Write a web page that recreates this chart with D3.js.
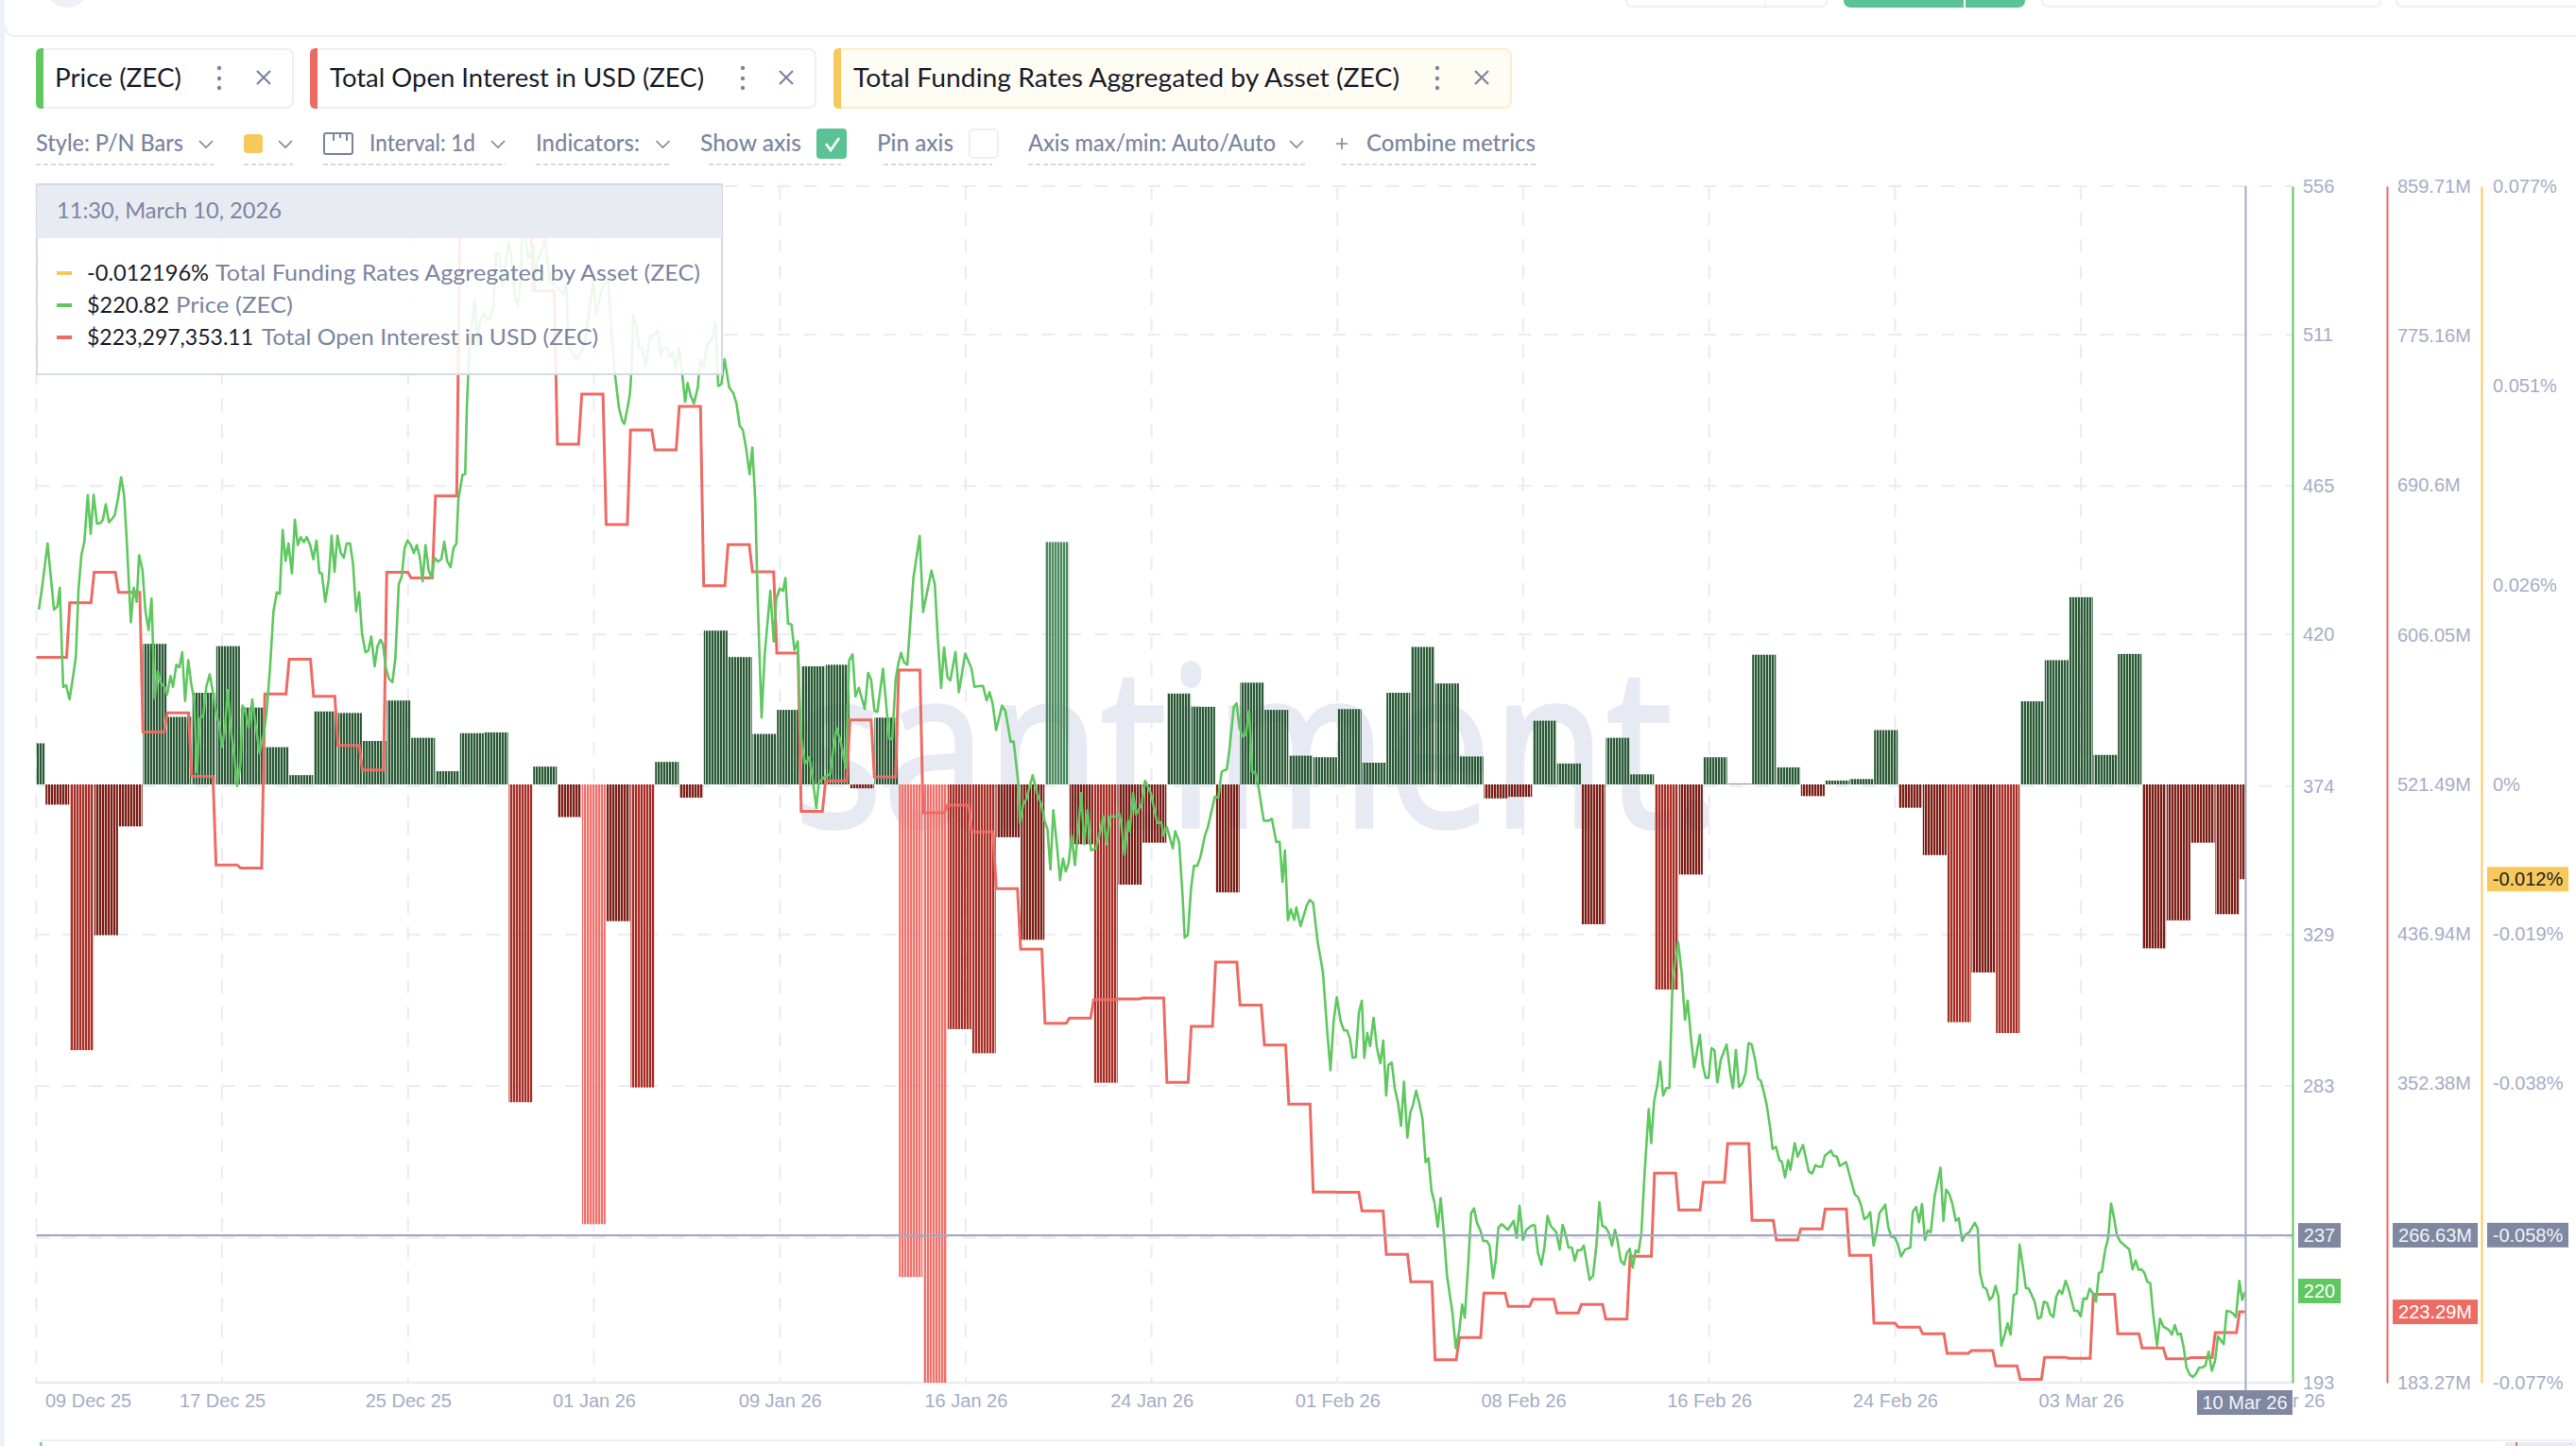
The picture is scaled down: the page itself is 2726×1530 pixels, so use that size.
<!DOCTYPE html>
<html><head><meta charset="utf-8">
<style>html,body{margin:0;padding:0;background:#fff}svg{display:block}</style>
<script src="https://cdn.jsdelivr.net/npm/d3@7"></script></head><body>
<script>
// ---------- DATA ----------
const xTickLabels=["09 Dec 25","17 Dec 25","25 Dec 25","01 Jan 26","09 Jan 26","16 Jan 26","24 Jan 26","01 Feb 26","08 Feb 26","16 Feb 26","24 Feb 26","03 Mar 26","10 Mar 26"];
const priceTicks=[556,511,465,420,374,329,283,237,193];
const oiTicks=[859.71,775.16,690.6,606.05,521.49,436.94,352.38,183.27];
const fundingTicks=[0.077,0.0513,0.0257,0,-0.01925,-0.0385,-0.05775,-0.077];
const fundingTickLabels=["0.077%","0.051%","0.026%","0%","-0.019%","-0.038%","-0.058%","-0.077%"];
// Daily funding rate in %, 09 Dec 25 .. 10 Mar 26
const funding=[.0053,-.0026,-.0342,-.0194,-.0054,.0181,.0087,.0118,.0178,.0099,.0048,.0012,.0094,.0092,.0056,.0108,.006,.0017,.0066,.0067,
-.0409,.0023,-.0042,-.0566,-.0176,-.039,.0029,-.0017,.0198,.0164,.0065,.0096,.0152,.0154,-.0005,.0086,-.0634,-.077,-.0315,-.0346,-.0068,-.02,
.0312,-.0077,-.0384,-.0129,-.0075,.0117,.01,-.0139,.0131,.0096,.0037,.0035,.0097,.0028,.0118,.0177,.013,.0036,-.0018,-.0016,.0082,.0027,-.018,
.006,.0013,-.0264,-.0116,.0035,.0001,.0167,.0022,-.0015,.0005,.0007,.007,-.003,-.0091,-.0306,-.0242,-.032,.0107,.016,.0241,.0038,.0168,-.0211,-.0175,-.0075,-.0167,-.0122];
// Daily total open interest, USD millions
const openInterest=[593.4,593.4,624.2,641.5,630.1,551.2,561.9,526,476,474.2,572.7,592.3,571.3,543.5,529.6,641.5,638.3,684.6,836.7,850.1,851.1,800.5,713.8,742.1,668.4,721.8,710.6,735.2,633.8,657.1,641.7,595.7,506.2,523.5,558,525.7,586.1,505.4,509.7,494.7,462.6,428.4,386.4,389.4,399.8,400.2,400.7,353.1,384.7,421,396.7,374.2,340.8,291.1,291,280.4,255.8,240.3,196.2,208.8,233.9,226.4,230.4,222.7,227.5,219.2,254.7,301.7,280.9,296.6,318.4,275,263.9,270.2,281.4,255.3,216.9,214.7,210.9,199.9,201.4,192.7,185.2,197.5,197,233.2,210.9,202.9,196.8,197.4,211.6,223.29];
// Price samples: time in days since 09 Dec 25, and price in USD
const priceDay=[.24,.38,.6,.86,1,1.1,1.24,1.36,1.5,1.62,1.76,1.87,1.99,2.11,2.25,2.37,2.49,2.63,2.77,2.87,2.99,3.12,3.24,3.36,3.5,3.62,3.74,3.84,4.02,4.14,4.26,4.36,4.5,4.62,4.75,4.87,5,5.13,5.23,5.4,5.51,5.65,5.75,5.89,6.01,6.13,6.25,6.38,6.5,6.62,6.74,6.86,7,7.12,7.26,7.4,7.52,7.66,7.76,7.88,8,8.14,8.27,8.39,8.53,8.61,8.73,8.87,9.01,9.13,9.31,9.48,9.6,9.74,9.88,10.02,10.14,10.26,10.38,10.5,10.64,10.76,10.88,11,11.13,11.25,11.39,11.52,11.65,11.77,11.87,12.01,12.15,12.27,12.39,12.51,12.65,12.77,12.89,13.03,13.15,13.28,13.4,13.52,13.66,13.78,13.9,14.04,14.16,14.28,14.38,14.5,14.63,14.77,14.89,15.03,15.15,15.27,15.39,15.53,15.65,15.77,15.89,16.01,16.13,16.26,16.38,16.5,16.64,16.78,16.9,17.02,17.16,17.28,17.4,17.48,17.65,17.76,
17.83,17.9,18,18.15,18.28,18.36,18.51,18.64,18.8,18.93,19.03,19.16,19.29,19.54,19.64,19.81,19.92,20.05,20.13,20.23,20.36,20.57,20.62,20.71,20.91,21.04,21.23,21.36,21.56,21.79,21.92,
22.01,22.33,22.66,22.85,23.02,23.15,23.33,23.5,23.63,23.73,23.89,23.95,24.08,24.21,24.3,24.43,24.53,24.6,24.66,24.79,24.9,25.05,25.18,25.37,25.5,25.67,25.8,25.89,26.05,26.19,26.28,26.41,26.54,26.67,26.8,26.9,27.02,27.16,27.32,27.41,27.54,27.7,27.9,28.05,28.16,28.29,28.42,28.61,28.78,28.91,29.04,29.17,29.3,29.45,29.56,29.68,
29.78,29.94,30.07,30.3,30.44,30.54,30.68,30.82,30.92,31.03,31.17,31.29,31.43,31.55,31.72,31.9,32.03,32.19,32.29,32.5,32.76,32.88,33.02,33.2,33.4,33.54,33.68,33.8,33.94,34.18,34.32,34.44,34.58,34.7,34.93,35.19,35.31,35.45,35.57,35.67,35.8,35.93,36.18,36.44,36.58,36.92,37.06,37.18,37.32,37.44,37.58,37.7,37.91,38.05,38.31,38.57,38.69,38.87,39.04,39.19,39.31,39.44,39.58,39.82,39.96,40.18,40.3,40.48,40.56,40.7,40.82,41.08,41.29,41.43,41.57,41.69,41.81,41.93,42.09,42.21,42.33,42.44,42.56,42.68,42.82,43.08,43.2,43.34,43.48,43.68,43.86,43.98,44.12,44.26,44.52,44.64,44.72,44.86,45,45.07,45.21,45.33,45.56,45.7,45.94,46.2,46.37,46.46,46.6,46.84,46.94,47.1,47.24,47.33,47.46,47.59,47.71,47.85,47.98,48.16,48.28,48.57,48.71,48.85,49.06,49.16,49.35,49.46,49.58,49.72,49.84,49.98,50.1,50.24,50.36,50.58,50.79,50.91,51.09,51.23,51.35,51.45,51.57,51.69,51.83,51.92,52.09,52.35,52.47,52.61,52.79,
53.01,53.18,53.32,53.45,53.58,53.74,53.88,54,54.12,54.23,54.36,54.49,54.61,54.71,54.83,54.95,55.09,55.23,55.37,55.49,55.61,55.7,55.84,55.96,56.1,56.22,56.34,56.48,56.6,56.71,56.84,56.97,57.1,57.23,57.35,57.47,57.59,57.73,57.85,57.97,58.11,58.33,58.47,58.61,58.73,58.84,58.99,59.1,59.22,59.34,59.48,59.6,59.74,59.86,60,60.12,60.22,60.36,60.61,60.85,60.97,61.09,61.23,61.37,61.59,61.72,61.85,61.99,62.11,62.24,62.37,62.6,62.74,62.86,62.98,63.1,63.24,63.36,63.48,63.62,63.73,63.97,64.11,64.25,64.37,64.49,64.63,64.75,64.89,65.01,65.11,65.25,65.39,65.5,65.62,65.74,65.86,65.98,66.1,66.22,66.4,66.5,66.62,66.76,66.87,66.99,67.12,67.25,67.38,67.61,67.75,67.89,68,68.13,68.27,68.5,68.62,68.74,68.86,68.98,69.1,69.22,69.36,69.6,69.76,69.86,69.98,70.11,70.25,70.38,70.5,70.63,70.77,70.89,71.01,71.13,71.25,71.39,71.49,71.63,71.77,71.87,72,72.13,72.22,72.4,72.52,72.74,72.98,73.12,73.25,73.4,73.52,73.64,73.89,73.99,74.13,74.25,74.51,74.68,74.87,75,75.13,75.26,75.38,75.5,75.64,75.76,75.88,76.12,76.24,76.36,76.52,76.63,76.77,76.94,77.15,77.25,77.39,77.51,77.63,77.75,77.87,77.99,78.15,78.39,78.51,78.62,78.76,78.88,79.02,79.14,79.28,79.42,79.57,79.8,79.92,
80.01,80.15,80.27,80.41,80.53,80.65,80.77,80.89,81.01,81.15,81.27,81.4,81.52,81.64,81.76,81.9,82.02,82.26,82.4,82.52,82.64,82.77,82.9,83.03,83.15,83.27,83.39,83.53,83.65,83.89,84.03,84.15,84.27,84.4,84.52,84.66,84.78,84.9,85.02,85.16,85.28,85.4,85.52,85.64,85.78,85.9,86.15,86.28,86.41,86.53,86.65,86.77,86.89,87.01,87.13,87.29,87.41,87.55,87.78,87.9,88.02,88.14,88.26,88.38,88.5,88.63,88.76,88.89,89.02,89.15,89.27,89.41,89.54,89.67,89.79,90.03,90.15,90.29,90.41,90.53,90.67,90.79,90.9];
const priceValue=[427.5,434.7,447.6,427.5,428.5,434.2,404.1,404.6,400.3,406,413.2,433.7,444.2,448.1,462.2,450.5,462.4,453.6,453.8,454.8,459.5,454,455,456.2,461.5,467.7,462.4,450,423.7,434.2,429.9,444,439.5,427,421.3,430.9,400.7,408.9,405.5,404.1,401.7,407.4,404.1,410.8,410,414.6,399.8,412.2,405,400.3,378.3,394.5,395.5,404.1,407.9,402.2,396.4,392.6,385.9,390.7,403.1,390.7,383.1,374,381.1,398.4,396.4,391.7,400.3,393.6,384,389.8,396.4,409.8,427,432.8,432.3,451.7,442.3,447.6,438.5,454.8,447.1,449.5,448,449.5,447.1,442.8,448.5,438.7,438.5,429.9,436.6,450,439,450,444.7,443.3,447.6,447.6,441.4,427,432.8,420.3,414.6,415.1,419.4,410.3,416.5,418.4,417,409.8,406.5,405.5,412.7,435.2,437.5,446.2,448.5,447.1,444.7,447.1,443.8,436.1,447.1,439.5,437.1,443.3,442.1,442.8,448.1,442.3,440.4,446.2,447.6,461,468.4,468.6,
489.2,501.6,512.1,521.2,507.3,515,517.4,515.5,516,519.8,535.8,535.8,525.5,538.9,535,522.6,519.8,527.4,552.3,540.8,534,537.9,524.5,533.1,536.5,540.3,527.4,526.5,525,523.1,526,
507.3,503.5,507.3,517.8,527.4,516.9,523.6,526.5,528.4,516.9,500.6,496.8,488.7,484.9,483.9,488.7,493,500.6,516.9,513.5,507.3,505.9,501.6,510.7,510.5,512.3,504.5,506.9,506.9,504,505.9,500.6,506.9,499.7,490.6,496.3,492.5,490.1,494.9,503.5,501.1,507.8,509.7,514.5,495.4,495.9,503.5,494.9,493.2,490.1,483.4,482,476.7,468.6,476.7,461,
430.7,394.8,414,433.2,417.9,430.7,433.9,433.2,437.1,423.3,423,415.3,417.9,389.7,380.8,382.7,376.9,367.3,375,376.7,377.6,384.6,391.6,387.2,379.5,412.1,414,401.2,403.8,397.4,408.3,406.4,396.8,396.5,409.6,388.4,388.2,406.4,411.5,414.4,411.5,410.8,437.1,449.9,426.8,439.4,435.2,419.2,403.8,416,407,406.1,414.7,402.5,414.2,409.6,404.1,404.3,404.4,400,402.5,398.9,391,398.4,396.8,387.4,387.5,375.6,362.8,368.6,369.9,377.3,371.1,368.6,363.5,360.9,348.7,366.7,355.1,345.5,352,348.1,350.7,359,350,371.8,356.4,366.7,354.5,355.1,360.3,364.8,356.4,364.8,364.8,365.6,362.8,353.2,363.5,360.3,371.8,365.4,368.6,375.6,371.8,362.8,363.1,359,361.5,355.1,360.3,357.1,341.1,328,328.9,343,349.8,349.8,352.6,359,361.5,370.8,370.5,378.4,379.1,384.6,398,399.1,391.6,389.1,389.5,396.8,378.4,377.9,373.7,363.5,363.5,364.1,357.1,357.1,344.9,354.5,333.4,336.6,333.4,337.2,331.5,337.9,339.5,338.5,327,
317.5,300.2,287.8,302.6,310,302.6,299.9,299.9,297.4,291.6,291.8,305.4,308.9,291.6,299.1,295.1,303.7,294.5,289.9,296.8,280.1,289.3,290.1,282.4,277.8,270.9,284.3,267.4,274.9,277.2,281.6,277.8,273.2,259.9,261.1,251.3,247.8,240.3,249,239.2,225.4,214.4,203.5,208.6,216.7,212.7,230,244.4,245.9,241.5,239.2,236,236,234.6,224.8,230.5,240.1,241.1,239.4,242.1,236.9,246.7,236.3,239.4,240.7,240.7,232.3,228.8,234,243.6,240.6,238.6,233.4,240.9,238,234,234,230,233.2,233.2,234.6,224.2,225.4,234.6,247.7,240.6,240.1,238.6,234.6,239.4,236.3,230,228.8,232.3,233.6,227.9,233.1,232.5,238.6,255.3,276,265.7,278.4,283.5,290.4,280.1,282.4,282.4,315.2,326.7,317.5,303.1,308.9,298,288.7,298.5,289.3,285.5,285.5,294.5,293.9,284.1,291,295.6,286.4,282.4,293.9,282.7,283.9,287,296,295.6,291,285.3,284.5,281.2,277.2,270.3,263.9,264.5,260.5,260.1,255.3,260.5,257.6,265.7,261.6,265.1,257,256.5,259,258.5,258.5,261.9,263.4,261.9,261.6,258.8,259.9,255.3,250.1,249.3,246.7,242.6,243.2,244.7,234.6,238.6,244.4,247,240.3,237.4,236.9,235.1,231.3,233.4,234,244.9,246.3,241.7,247.2,236.3,239.2,238.6,249.6,258.2,242.1,251.6,250.1,247.2,242.1,242.9,236,238,238.6,241.5,239.8,
226.3,222,221.5,218.1,219.1,222.4,219.1,204.3,207.1,211,207.6,219.6,220,234.9,229.1,221.7,221.5,217.6,212.4,212.9,217.6,217.2,213.8,212.9,219.1,221,220,223.9,221.5,214.8,214.8,213.1,218.6,218.4,221.5,220,217.6,226.3,226.7,233.4,236.8,247.3,243,237.7,235.8,235,233.4,227.4,230.1,227.2,227.4,226.3,223.6,223.2,213.8,204.3,212.4,210,209,207.6,210.5,207.6,207.9,203.8,197.6,195.5,194.7,195.7,197.6,197.6,198.1,202.4,196.6,199.5,207.1,204.7,214.8,214.6,214,212.9,223.9,218.1,220.5];
const cursorPrice=237.7, cursorOI=266.63, cursorFunding=-0.058;
const lastPrice=220.82, lastOI=223.29, lastFunding=-0.012196;

// ---------- GEOMETRY ----------
const W=2726,H=1530,plotTop=197,plotBottom=1463,plotLeft=38.4,gA=2426,rA=2526,yA=2626,cursorX=2376.5;
const GREEN="#5fc860",RED="#ee6b64",YEL="#f7c95c",UI="#7b85a0",AX="#a6adc6",GRID="#e9ebf5",CUR="#a2a9c6",DARKBOX="#7f87a1",INK="#1a1c2b",LINEC="#eeeef5";
const UIF="Lato,'Open Sans',sans-serif",AXF="'Liberation Sans',Arial,sans-serif";

const yPrice=d3.scaleLinear([193,556],[plotBottom,plotTop]);
const yOI=d3.scaleLinear([183.27,859.71],[plotBottom,plotTop]);
const yFund=d3.scaleLinear([-0.077,0.077],[plotBottom,plotTop]);
const xDay=d3.scaleLinear([0,91],[34.9,2382.7]);     // daily bars / open interest
const xSample=d3.scaleLinear([0,91],[34.95,2378.2]); // price samples
const xTick=d3.scaleLinear([0,12],[plotLeft,plotLeft+12*196.7]);

const svg=d3.select("body").append("svg").attr("width",W).attr("height",H).attr("viewBox",`0 0 ${W} ${H}`);
const defs=svg.append("defs");
defs.append("clipPath").attr("id","plot").append("rect").attr("x",plotLeft).attr("y",plotTop-10).attr("width",cursorX-plotLeft).attr("height",plotBottom-plotTop+10);
function pattern(id,c){const p=defs.append("pattern").attr("id",id).attr("patternUnits","userSpaceOnUse").attr("width",3).attr("height",4);
 p.append("rect").attr("width",3).attr("height",4).attr("fill",c).attr("opacity",.32);
 p.append("rect").attr("width",2).attr("height",4).attr("fill",c);}
const barColors={gd:"#2a5a35",gm:"#4a8a5e",r1:"#7b1e16",r2:"#a92e25",r3:"#f2716b"};
Object.entries(barColors).forEach(([k,c])=>pattern(k,c));
const posLevel=d3.scaleThreshold([0.025],["gd","gm"]);
const negLevel=d3.scaleThreshold([0.025,0.05],["r1","r2","r3"]);

// ---------- PAGE CHROME ----------
function txt(g,x,y,s,end,o={}){return g.append("text").attr("x",x).attr("y",y).text(s)
 .attr("font-family",o.font||UIF).attr("font-size",o.size||24).attr("font-weight",o.weight||400).attr("fill",o.fill||UI)
 .attr("textLength",end?end-x:null).attr("lengthAdjust","spacingAndGlyphs").attr("text-anchor",o.anchor||"start");}
const ui=svg.append("g");
ui.append("rect").attr("x",0).attr("y",0).attr("width",5).attr("height",H).attr("fill","#f0f1f8");
ui.append("circle").attr("cx",71).attr("cy",-16).attr("r",24).attr("fill","#f0f1f7");
ui.append("path").attr("d",`M6 28Q6 38 16 38H${W}`).attr("fill","none").attr("stroke",LINEC).attr("stroke-width",2);
// cut-off header buttons
[[1721,1933],[2161,2519],[2536,2740]].forEach(([a,b])=>ui.append("rect").attr("x",a).attr("y",-10).attr("width",b-a).attr("height",17).attr("rx",6).attr("fill","#fff").attr("stroke",LINEC).attr("stroke-width",2));
ui.append("line").attr("x1",1868).attr("x2",1868).attr("y1",0).attr("y2",7).attr("stroke",LINEC);
ui.append("rect").attr("x",1951).attr("y",-10).attr("width",192).attr("height",18).attr("rx",7).attr("fill","#5ac295");
ui.append("line").attr("x1",2079).attr("x2",2079).attr("y1",0).attr("y2",8).attr("stroke","#fff").attr("stroke-width",2);

function chip(x0,x1,col,label,tEnd,dotX,xX,fill,border){
 ui.append("rect").attr("x",x0+1).attr("y",52).attr("width",x1-x0-2).attr("height",62).attr("rx",7).attr("fill",fill).attr("stroke",border).attr("stroke-width",2);
 ui.append("path").attr("d",`M${x0+8} 51H${x0+6}Q${x0} 51 ${x0} 57V109Q${x0} 115 ${x0+6} 115H${x0+8}Z`).attr("fill",col);
 txt(ui,x0+20+(x0==38?0:1),92,label,tEnd,{size:26,fill:INK});
 [72,83,93].forEach(y=>ui.append("circle").attr("cx",dotX).attr("cy",y).attr("r",2.2).attr("fill",UI));
 ui.append("path").attr("d",`M${xX-7} 75l14 14m0 -14l-14 14`).attr("stroke",UI).attr("stroke-width",2.2).attr("fill","none");
}
chip(38,311,GREEN,"Price (ZEC)",192,232,279,"#fff",LINEC);
chip(328,864,RED,"Total Open Interest in USD (ZEC)",745,786,832,"#fff",LINEC);
chip(882,1600,YEL,"Total Funding Rates Aggregated by Asset (ZEC)",1481,1521,1568,"#fffcf4","#fdeec5");

function chevron(x){ui.append("path").attr("d",`M${x-7} 149l7 7l7 -7`).attr("fill","none").attr("stroke",UI).attr("stroke-width",1.6);}
function under(a,b){ui.append("line").attr("x1",a).attr("x2",b).attr("y1",174).attr("y2",174).attr("stroke","#d5d8ea").attr("stroke-width",2).attr("stroke-dasharray","5 3");}
const tb={weight:500};
txt(ui,38,160,"Style: P/N Bars",194,tb);chevron(218);under(38,226);
ui.append("rect").attr("x",258).attr("y",142).attr("width",20).attr("height",20).attr("rx",4).attr("fill",YEL);chevron(302);under(258,310);
ui.append("rect").attr("x",343).attr("y",141).attr("width",30).attr("height",22).attr("rx",2).attr("fill","none").attr("stroke",UI).attr("stroke-width",2);
ui.append("path").attr("d","M353 141v8M360 141v5M367 141v8").attr("stroke",UI).attr("stroke-width",2);
txt(ui,391,160,"Interval: 1d",503,tb);chevron(527);under(342,535);
txt(ui,567,160,"Indicators:",677,tb);chevron(701.5);under(567,709);
txt(ui,741,160,"Show axis",848,tb);under(750,890);
ui.append("rect").attr("x",864).attr("y",136).attr("width",32).attr("height",32).attr("rx",4).attr("fill","#5ac295");
ui.append("path").attr("d","M874 152l5 7l9 -13").attr("fill","none").attr("stroke","#fff").attr("stroke-width",2.6);
txt(ui,928,160,"Pin axis",1009,tb);under(935,1050);
ui.append("rect").attr("x",1026).attr("y",137).attr("width",30).attr("height",30).attr("rx",4).attr("fill","#fff").attr("stroke",LINEC).attr("stroke-width",2);
txt(ui,1088,160,"Axis max/min: Auto/Auto",1350,tb);chevron(1372);under(1088,1381);
ui.append("path").attr("d","M1414 152h12M1420 146v12").attr("stroke",UI).attr("stroke-width",1.6);
txt(ui,1446,160,"Combine metrics",1625,tb);under(1420,1625);

// bottom panel edge
ui.append("path").attr("d",`M42 1530V1528Q42 1524 46 1524H2722Q2725 1524 2725 1528V1530`).attr("fill","none").attr("stroke",LINEC).attr("stroke-width",2);
ui.append("line").attr("x1",43.5).attr("x2",43.5).attr("y1",1526).attr("y2",1530).attr("stroke",GREEN).attr("stroke-width",2);
ui.append("rect").attr("x",2651).attr("y",1526).attr("width",72).attr("height",4).attr("fill","#e8eaf3");
ui.append("line").attr("x1",2663).attr("x2",2663).attr("y1",1526).attr("y2",1530).attr("stroke",RED).attr("stroke-width",2);

// ---------- WATERMARK ----------
svg.append("text").attr("x",840).attr("y",875).text("santiment.").attr("font-family","'Open Sans',sans-serif").attr("font-size",237)
 .attr("fill","#e7eaf3").attr("stroke","#e7eaf3").attr("stroke-width",3.5).attr("textLength",982).attr("lengthAdjust","spacingAndGlyphs");

// ---------- GRID ----------
const grid=svg.append("g").attr("stroke",GRID).attr("stroke-width",2).attr("stroke-dasharray","14 14").attr("fill","none");
grid.selectAll(".h").data(priceTicks).join("line").attr("class","h").attr("x1",plotLeft).attr("x2",gA).attr("y1",d=>yPrice(d)).attr("y2",d=>yPrice(d));
grid.selectAll(".v").data(d3.range(12)).join("line").attr("class","v").attr("x1",d=>xTick(d)).attr("x2",d=>xTick(d)).attr("y1",plotTop).attr("y2",plotBottom);
svg.append("line").attr("x1",plotLeft).attr("x2",gA).attr("y1",plotBottom).attr("y2",plotBottom).attr("stroke",GRID).attr("stroke-width",2.5);

// ---------- MARKS ----------
const plot=svg.append("g").attr("clip-path","url(#plot)");
plot.append("g").selectAll("rect").data(funding).join("rect")
 .attr("x",(d,i)=>xDay(i-0.5)+0.4).attr("width",xDay(1)-xDay(0)-0.7)
 .attr("y",d=>Math.min(yFund(d),yFund(0))).attr("height",d=>Math.abs(yFund(d)-yFund(0)))
 .attr("fill",d=>`url(#${d>=0?posLevel(d):negLevel(-d)})`);
const oiPts=openInterest.flatMap((v,i)=>[[i-0.49,v],[i+0.38,v]]);
plot.append("path").datum(oiPts).attr("fill","none").attr("stroke",RED).attr("stroke-width",3)
 .attr("d",d3.line().x(d=>xDay(d[0])).y(d=>yOI(d[1])));
plot.append("path").datum(priceDay.map((d,i)=>[d,priceValue[i]])).attr("fill","none").attr("stroke",GREEN).attr("stroke-width",2.6).attr("stroke-linejoin","round")
 .attr("d",d3.line().x(d=>xSample(d[0])).y(d=>yPrice(d[1])));

// ---------- AXES ----------
function styleAxis(g,col){g.select(".domain").attr("stroke",col).attr("stroke-width",2);
 g.selectAll(".tick line").remove();
 g.selectAll("text").attr("fill",AX).attr("font-family",AXF).attr("font-size",20);
 g.attr("font-family",null).attr("font-size",null);}
const aP=svg.append("g").attr("transform",`translate(${gA},0)`).call(d3.axisRight(yPrice).tickValues(priceTicks).tickFormat(d3.format("d")).tickSize(0).tickPadding(11).tickSizeOuter(0));styleAxis(aP,GREEN);
const aO=svg.append("g").attr("transform",`translate(${rA},0)`).call(d3.axisRight(yOI).tickValues(oiTicks).tickFormat(d=>d+"M").tickSize(0).tickPadding(11).tickSizeOuter(0));styleAxis(aO,RED);
const aF=svg.append("g").attr("transform",`translate(${yA},0)`).call(d3.axisRight(yFund).tickValues(fundingTicks).tickFormat((d,i)=>fundingTickLabels[i]).tickSize(0).tickPadding(12).tickSizeOuter(0));styleAxis(aF,YEL);
const aX=svg.append("g").attr("transform",`translate(0,${plotBottom})`).call(d3.axisBottom(xTick).tickValues(d3.range(13)).tickFormat(i=>xTickLabels[i]).tickSize(0).tickPadding(11));
aX.select(".domain").remove();aX.selectAll("text").attr("fill",AX).attr("font-family",AXF).attr("font-size",20).attr("dy",null).attr("dominant-baseline","middle").attr("y",21);
aX.attr("font-family",null).attr("font-size",null);
aX.selectAll("text").filter((d,i)=>i==0).attr("text-anchor","start").attr("x",47.5-xTick(0));
aX.selectAll("text").filter((d,i)=>i==12).attr("text-anchor","end").attr("x",2460-xTick(12));

// ---------- CROSSHAIR ----------
const cur=svg.append("g");
cur.append("line").attr("x1",plotLeft).attr("x2",gA).attr("y1",yPrice(cursorPrice)).attr("y2",yPrice(cursorPrice)).attr("stroke",CUR).attr("stroke-width",2.2);
cur.append("line").attr("x1",cursorX).attr("x2",cursorX).attr("y1",plotTop).attr("y2",1471).attr("stroke",CUR).attr("stroke-width",2);
function tag(x0,x1,yc,fill,s,col){cur.append("rect").attr("x",x0).attr("y",yc-13).attr("width",x1-x0).attr("height",26).attr("fill",fill);
 cur.append("text").attr("x",(x0+x1)/2).attr("y",yc).attr("dy","0.35em").attr("text-anchor","middle").text(s).attr("font-family",AXF).attr("font-size",20).attr("fill",col||"#f2f3f8");}
tag(2432,2477,yPrice(cursorPrice),DARKBOX,"237");
tag(2532,2622,yOI(cursorOI),DARKBOX,cursorOI+"M");
tag(2632,2718,yFund(cursorFunding),DARKBOX,cursorFunding.toFixed(3)+"%");
tag(2432,2477,yPrice(lastPrice),GREEN,Math.floor(lastPrice)+"","#fff");
tag(2532,2622,yOI(lastOI),RED,lastOI+"M","#fff");
tag(2632,2718,yFund(lastFunding),YEL,lastFunding.toFixed(3)+"%","#222");
tag(2325,2426,1484,DARKBOX,"10 Mar 26");

// ---------- TOOLTIP ----------
const tip=svg.append("g");
tip.append("rect").attr("x",39).attr("y",195).attr("width",725).attr("height",201).attr("fill","#fff").attr("fill-opacity",.88).attr("stroke","#d5d8e8").attr("stroke-width",2);
tip.append("rect").attr("x",39).attr("y",196).attr("width",725).attr("height",56).attr("fill","#e8eaf3").attr("fill-opacity",.96);
txt(tip,60,231,"11:30, March 10, 2026",298,{size:24});
function row(y,col,v,vEnd,nStart,name,nEnd){tip.append("rect").attr("x",60).attr("y",y-10).attr("width",16).attr("height",4).attr("fill",col);
 txt(tip,92,y,v,vEnd,{size:24,fill:INK});txt(tip,nStart,y,name,nEnd,{size:24});}
row(297,YEL,"-0.012196%",221,228,"Total Funding Rates Aggregated by Asset (ZEC)",741);
row(331,GREEN,"$220.82",179,186,"Price (ZEC)",310);
row(365,RED,"$223,297,353.11",268,277,"Total Open Interest in USD (ZEC)",633);
</script></body></html>
